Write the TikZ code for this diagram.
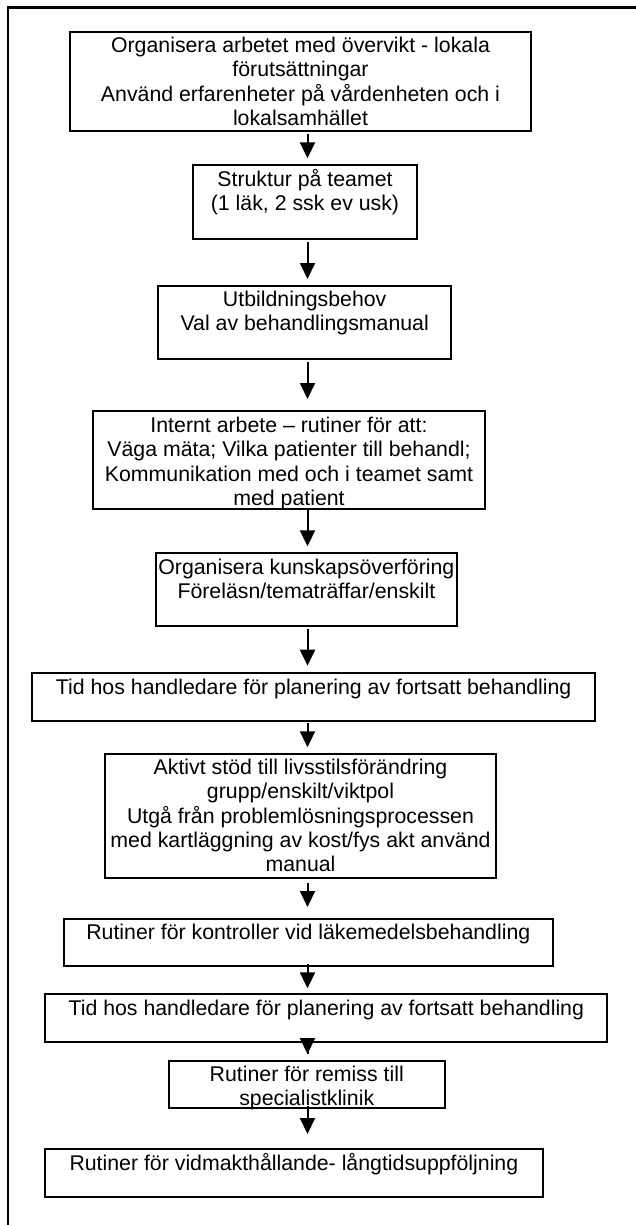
\documentclass[tikz,border=0pt]{standalone}
\usepackage{fontspec}
\setmainfont{Liberation Sans}
\usetikzlibrary{arrows.meta}
\begin{document}
\begin{tikzpicture}[x=1pt,y=-1pt,
  box/.style={draw=black,line width=2pt,inner sep=0pt,fill=none},
  txt/.style={inner sep=0pt,align=center,anchor=north,font=\fontsize{21.3}{24.2}\selectfont},
  arr/.style={draw=black,line width=2pt,-{Triangle[width=15pt,length=16pt]}},
  frame/.style={draw=black,line width=2.2pt}]
\useasboundingbox (0,0) rectangle (635,1225);
\def\st{\rule{0pt}{17pt}}
% frame
\coordinate (fr) at (636,7.5);
\coordinate (fc) at (8,7.5);
\coordinate (fb) at (8,1226);
\draw[frame] (fr) -- (fc) -- (fb);
\coordinate (ax) at (307.5,0);
% boxes
\node[box,minimum width=461pt,minimum height=98.7pt] (b1) at (300.5,81.35) {};
\node[box,minimum width=224pt,minimum height=73.4pt] (b2) at (305,202) {};
\node[box,minimum width=293.4pt,minimum height=73.6pt] (b3) at (304.7,322.5) {};
\node[box,minimum width=392pt,minimum height=98pt] (b4) at (289,460) {};
\node[box,minimum width=300.7pt,minimum height=72.7pt] (b5) at (306.35,589.65) {};
\node[box,minimum width=562.6pt,minimum height=47.4pt] (b6) at (313.7,697) {};
\node[box,minimum width=391pt,minimum height=124.3pt] (b7) at (300.5,816.15) {};
\node[box,minimum width=488.6pt,minimum height=47pt] (b8) at (308.3,942.5) {};
\node[box,minimum width=562pt,minimum height=47.4pt] (b9) at (326.3,1018) {};
\node[box,minimum width=275.5pt,minimum height=47.3pt] (b10) at (306.75,1084.65) {};
\node[box,minimum width=497.2pt,minimum height=47.4pt] (b11) at (293.9,1173) {};
% texts
\node[txt] (t1) at ([yshift=-4.5pt]b1.north) {\st Organisera arbetet med övervikt - lokala\\förutsättningar\\Använd erfarenheter på vårdenheten och i\\lokalsamhället};
\node[txt] (t2) at ([yshift=-4.5pt]b2.north) {\st Struktur på teamet\\(1 läk, 2 ssk ev usk)};
\node[txt] (t3) at ([yshift=-4.5pt]b3.north) {\st Utbildningsbehov\\Val av behandlingsmanual};
\node[txt] (t4) at ([yshift=-5.5pt]b4.north) {\st Internt arbete – rutiner för att:\\Väga mäta; Vilka patienter till behandl;\\Kommunikation med och i teamet samt\\med patient};
\node[txt] (t5) at ([yshift=-4.5pt]b5.north) {\st Organisera kunskapsöverföring\\Föreläsn/tematräffar/enskilt};
\node[txt] (t6) at ([yshift=-4.5pt]b6.north) {\st Tid hos handledare för planering av fortsatt behandling};
\node[txt] (t7) at ([yshift=-4.5pt]b7.north) {\st Aktivt stöd till livsstilsförändring\\grupp/enskilt/viktpol\\Utgå från problemlösningsprocessen\\med kartläggning av kost/fys akt använd\\manual};
\node[txt] (t8) at ([yshift=-4.5pt]b8.north) {\st Rutiner för kontroller vid läkemedelsbehandling};
\node[txt] (t9) at ([yshift=-4.5pt]b9.north) {\st Tid hos handledare för planering av fortsatt behandling};
\node[txt] (t10) at ([yshift=-4.5pt]b10.north) {\st Rutiner för remiss till\\specialistklinik};
\node[txt] (t11) at ([yshift=-4.5pt]b11.north) {\st Rutiner för vidmakthållande- långtidsuppföljning};
% arrows
\draw[arr,shorten <=2.3pt,shorten >=6pt] (b1.south -| ax) -- (b2.north -| ax);
\draw[arr,shorten <=2pt,shorten >=5.7pt] (b2.south -| ax) -- (b3.north -| ax);
\draw[arr,shorten <=1.7pt,shorten >=11pt] (b3.south -| ax) -- (b4.north -| ax);
\draw[arr,shorten <=0pt,shorten >=6pt] (b4.south -| ax) -- (b5.north -| ax);
\draw[arr,shorten <=2pt,shorten >=6.6pt] (b5.south -| ax) -- (b6.north -| ax);
\draw[arr,shorten <=1.3pt,shorten >=5.7pt] (b6.south -| ax) -- (b7.north -| ax);
\draw[arr,shorten <=3.4pt,shorten >=11pt] (b7.south -| ax) -- (b8.north -| ax);
\draw[arr,shorten <=-3.3pt,shorten >=5pt] (b8.south -| ax) -- (b9.north -| ax);
\draw[arr,shorten <=-11.7pt,shorten >=6pt] (b9.south -| ax) -- (b10.north -| ax);
\draw[arr,shorten <=-3.3pt,shorten >=14.3pt] (b10.south -| ax) -- (b11.north -| ax);
\end{tikzpicture}
\end{document}
